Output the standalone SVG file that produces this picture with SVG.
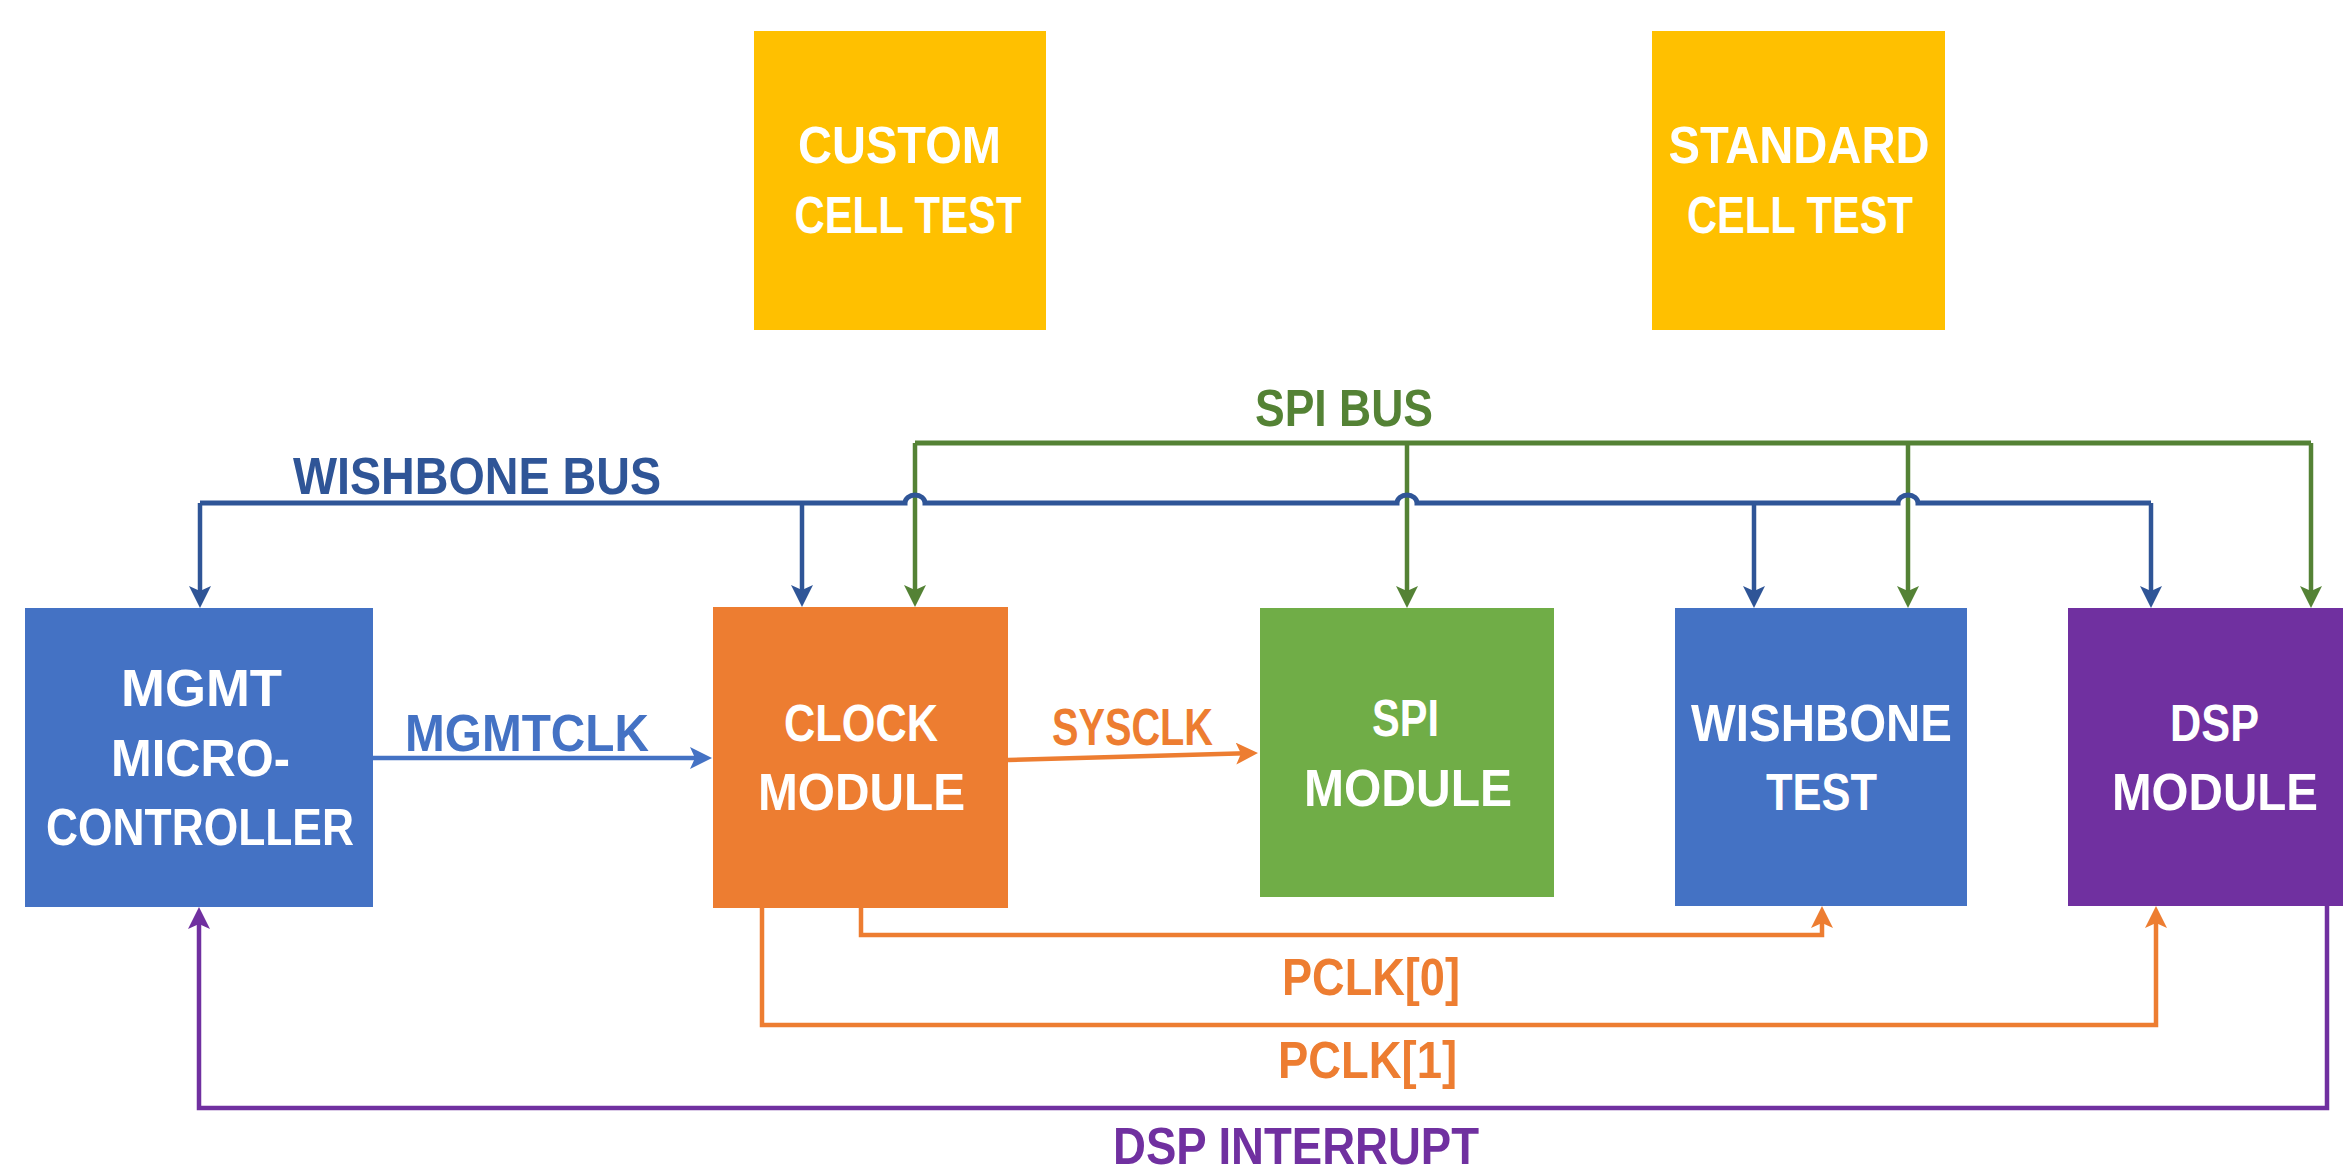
<svg xmlns="http://www.w3.org/2000/svg" width="2343" height="1167" viewBox="0 0 2343 1167">
<style>
.node text{font-family:"Liberation Sans",Arial,sans-serif;font-weight:bold;font-size:52px;fill:#fff;text-anchor:middle}
.lbl{font-family:"Liberation Sans",Arial,sans-serif;font-weight:bold;font-size:52px;text-anchor:middle}
.c{fill:none;stroke-linejoin:miter}
.bw{stroke:#2F5597}
.gr{stroke:#548235}
.lb{stroke:#4472C4}
.or{stroke:#ED7D31}
.pu{stroke:#7030A0}
.bus{stroke-width:5}
.drop{stroke-width:4.5}
</style>
<defs>
<marker id="aBw" markerUnits="userSpaceOnUse" viewBox="0 0 22 22" markerWidth="22" markerHeight="22" refX="10" refY="11" orient="auto"><path d="M0,0 L22,11 L0,22 L5,11 Z" fill="#2F5597"/></marker>
<marker id="aGr" markerUnits="userSpaceOnUse" viewBox="0 0 22 22" markerWidth="22" markerHeight="22" refX="10" refY="11" orient="auto"><path d="M0,0 L22,11 L0,22 L5,11 Z" fill="#548235"/></marker>
<marker id="aLb" markerUnits="userSpaceOnUse" viewBox="0 0 22 22" markerWidth="22" markerHeight="22" refX="10" refY="11" orient="auto"><path d="M0,0 L22,11 L0,22 L5,11 Z" fill="#4472C4"/></marker>
<marker id="aOr" markerUnits="userSpaceOnUse" viewBox="0 0 22 22" markerWidth="22" markerHeight="22" refX="10" refY="11" orient="auto"><path d="M0,0 L22,11 L0,22 L5,11 Z" fill="#ED7D31"/></marker>
<marker id="aPu" markerUnits="userSpaceOnUse" viewBox="0 0 22 22" markerWidth="22" markerHeight="22" refX="10" refY="11" orient="auto"><path d="M0,0 L22,11 L0,22 L5,11 Z" fill="#7030A0"/></marker>
</defs>
<rect width="2343" height="1167" fill="#fff"/>

<g id="custom-cell-test" class="node">
<rect x="754" y="31" width="292" height="299" fill="#FFC000"/>
<text x="899.5" y="163" textLength="203" lengthAdjust="spacingAndGlyphs">CUSTOM</text>
<text x="908" y="233" textLength="227" lengthAdjust="spacingAndGlyphs">CELL TEST</text>
</g>
<g id="standard-cell-test" class="node">
<rect x="1652" y="31" width="293" height="299" fill="#FFC000"/>
<text x="1799" y="163" textLength="261" lengthAdjust="spacingAndGlyphs">STANDARD</text>
<text x="1800" y="233" textLength="226" lengthAdjust="spacingAndGlyphs">CELL TEST</text>
</g>
<g id="mgmt-microcontroller" class="node">
<rect x="25" y="608" width="348" height="299" fill="#4472C4"/>
<text x="201.5" y="706" textLength="161" lengthAdjust="spacingAndGlyphs">MGMT</text>
<text x="200.5" y="776" textLength="179" lengthAdjust="spacingAndGlyphs">MICRO-</text>
<text x="200" y="845" textLength="308" lengthAdjust="spacingAndGlyphs">CONTROLLER</text>
</g>
<g id="clock-module" class="node">
<rect x="713" y="607" width="295" height="301" fill="#ED7D31"/>
<text x="861" y="741" textLength="154" lengthAdjust="spacingAndGlyphs">CLOCK</text>
<text x="861.5" y="810" textLength="207" lengthAdjust="spacingAndGlyphs">MODULE</text>
</g>
<g id="spi-module" class="node">
<rect x="1260" y="608" width="294" height="289" fill="#70AD47"/>
<text x="1405.5" y="736" textLength="67" lengthAdjust="spacingAndGlyphs">SPI</text>
<text x="1408" y="806" textLength="208" lengthAdjust="spacingAndGlyphs">MODULE</text>
</g>
<g id="wishbone-test" class="node">
<rect x="1675" y="608" width="292" height="298" fill="#4472C4"/>
<text x="1821.5" y="741" textLength="261" lengthAdjust="spacingAndGlyphs">WISHBONE</text>
<text x="1821.5" y="810" textLength="111" lengthAdjust="spacingAndGlyphs">TEST</text>
</g>
<g id="dsp-module" class="node">
<rect x="2068" y="608" width="280" height="298" fill="#7030A0"/>
<text x="2214.5" y="741" textLength="89" lengthAdjust="spacingAndGlyphs">DSP</text>
<text x="2215" y="810" textLength="206" lengthAdjust="spacingAndGlyphs">MODULE</text>
</g>

<g id="connectors">
<!-- SPI bus -->
<path class="c gr bus" d="M915,443 H2311"/>
<path class="c gr drop" d="M915,443 V595" marker-end="url(#aGr)"/>
<path class="c gr drop" d="M1407,443 V596" marker-end="url(#aGr)"/>
<path class="c gr drop" d="M1908,443 V596" marker-end="url(#aGr)"/>
<path class="c gr drop" d="M2311,443 V596" marker-end="url(#aGr)"/>
<!-- Wishbone bus -->
<path class="c bw bus" d="M200,503 H905 a10,8 0 0 1 20,0 H1397 a10,8 0 0 1 20,0 H1898 a10,8 0 0 1 20,0 H2151"/>
<path class="c bw drop" d="M200,503 V596" marker-end="url(#aBw)"/>
<path class="c bw drop" d="M802,503 V595" marker-end="url(#aBw)"/>
<path class="c bw drop" d="M1754,503 V596" marker-end="url(#aBw)"/>
<path class="c bw drop" d="M2151,503 V596" marker-end="url(#aBw)"/>
<!-- MGMTCLK -->
<path class="c lb drop" d="M373,758 H700" marker-end="url(#aLb)"/>
<!-- SYSCLK -->
<path class="c or drop" d="M1008,760 L1246,753.3" marker-end="url(#aOr)"/>
<!-- PCLK[0] -->
<path class="c or drop" d="M861,908 V935 H1822 V918" marker-end="url(#aOr)"/>
<!-- PCLK[1] -->
<path class="c or drop" d="M762,908 V1025 H2156 V918" marker-end="url(#aOr)"/>
<!-- DSP interrupt -->
<path class="c pu drop" d="M2327,906 V1108 H199 V919" marker-end="url(#aPu)"/>
</g>

<g id="labels">
<text class="lbl" x="477" y="494" fill="#2F5597" textLength="368" lengthAdjust="spacingAndGlyphs">WISHBONE BUS</text>
<text class="lbl" x="1344" y="426" fill="#548235" font-size="47" textLength="178" lengthAdjust="spacingAndGlyphs">SPI BUS</text>
<text class="lbl" x="527" y="751" fill="#4472C4" textLength="244" lengthAdjust="spacingAndGlyphs">MGMTCLK</text>
<text class="lbl" x="1132.5" y="745" fill="#ED7D31" textLength="161" lengthAdjust="spacingAndGlyphs">SYSCLK</text>
<text class="lbl" x="1371" y="995" fill="#ED7D31" textLength="178" lengthAdjust="spacingAndGlyphs">PCLK[0]</text>
<text class="lbl" x="1367.5" y="1078" fill="#ED7D31" textLength="179" lengthAdjust="spacingAndGlyphs">PCLK[1]</text>
<text class="lbl" x="1296" y="1164" fill="#7030A0" textLength="366" lengthAdjust="spacingAndGlyphs">DSP INTERRUPT</text>
</g>
</svg>
